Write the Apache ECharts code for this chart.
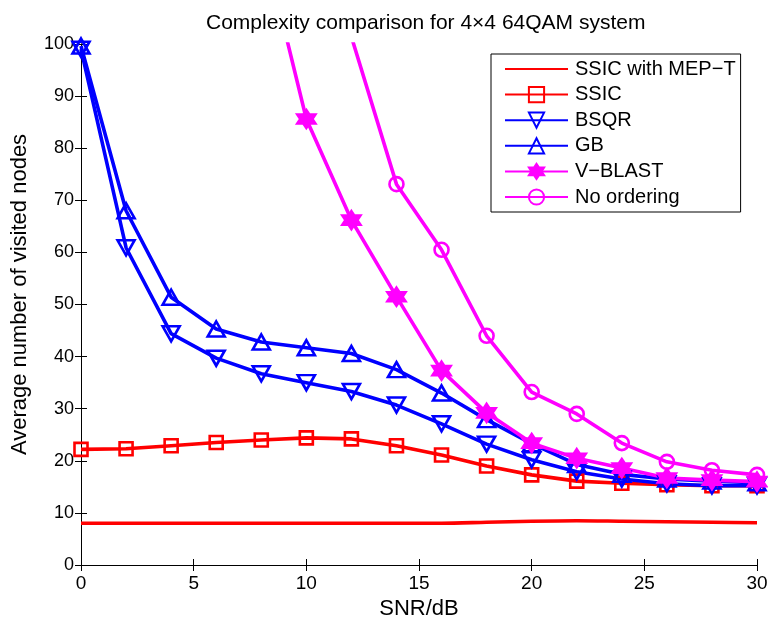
<!DOCTYPE html>
<html>
<head>
<meta charset="utf-8">
<title>Complexity comparison</title>
<script src="https://cdn.jsdelivr.net/npm/echarts@6.0.0/dist/echarts.min.js"></script>
<style>
  html,body{margin:0;padding:0;background:#fff;}
  #chart{width:768px;height:620px;}
</style>
</head>
<body>
<div id="chart"></div>
<script>
// SNR points (dB)
var snr = [0, 2, 4, 6, 8, 10, 12, 14, 16, 18, 20, 22, 24, 26, 28, 30];

// average number of visited nodes
var ssicMept = [8.0, 8.0, 8.0, 8.0, 8.0, 8.0, 8.0, 8.0, 8.0, 8.2, 8.4, 8.5, 8.4, 8.3, 8.2, 8.1];
var ssic     = [22.2, 22.3, 22.9, 23.5, 24.0, 24.4, 24.2, 22.9, 21.1, 19.0, 17.3, 16.1, 15.7, 15.4, 15.2, 15.2];
var bsqr     = [99.0, 60.9, 44.4, 39.7, 36.7, 35.0, 33.3, 30.7, 27.1, 23.2, 20.2, 17.9, 16.5, 15.6, 15.2, 15.2];
var gb       = [99.6, 68.0, 51.4, 45.3, 42.8, 41.7, 40.6, 37.5, 33.0, 27.9, 23.3, 19.3, 17.4, 16.5, 16.1, 15.8];
var vblast   = [null, null, null, null, 121, 85.6, 66.2, 51.5, 37.3, 29.2, 23.4, 20.5, 18.6, 16.7, 16.3, 16.0];
var noOrder  = [null, null, null, null, null, null, 101.4, 73.1, 60.5, 44.0, 33.2, 29.0, 23.4, 19.8, 18.2, 17.3];

var names = ['SSIC with MEP\u2212T', 'SSIC', 'BSQR', 'GB', 'V\u2212BLAST', 'No ordering'];

var red = '#ff0000';
var blue = '#0000ff';
var magenta = '#ff00ff';
var font = 'Liberation Sans, Arial, Helvetica, sans-serif';

var triDown = 'path://M0,0 L10,0 L5,9 Z';
var triUp = 'path://M5,0 L10,9 L0,9 Z';
var hexStar = 'path://M5,0 L6.44,2.5 L9.33,2.5 L7.89,5 L9.33,7.5 L6.44,7.5 L5,10 L3.56,7.5 L0.67,7.5 L2.11,5 L0.67,2.5 L3.56,2.5 Z';

function pairs(arr){
  var out = [];
  for (var i = 0; i < snr.length; i++) {
    out.push([snr[i], arr[i]]);
  }
  return out;
}

function lineSeries(name, arr, color, symbol, size, filled){
  return {
    name: name,
    type: 'line',
    data: pairs(arr),
    symbol: symbol,
    symbolSize: size,
    showAllSymbol: true,
    connectNulls: false,
    clip: true,
    lineStyle: { color: color, width: 3.6 },
    itemStyle: {
      color: filled ? color : 'rgba(0,0,0,0)',
      borderColor: color,
      borderWidth: 2.6
    },
    emphasis: { disabled: true },
    animation: false
  };
}

var myChart = echarts.init(document.getElementById('chart'));

var axisCommon = {
  type: 'value',
  axisLine: { show: true, lineStyle: { color: '#000', width: 1 } },
  axisTick: { show: true, inside: true, length: 6, lineStyle: { color: '#000' } },
  splitLine: { show: false }
};

var option = {
  backgroundColor: '#fff',
  title: {
    text: 'Complexity comparison for 4\u00d74 64QAM system',
    left: 201,
    top: 8,
    textStyle: { fontFamily: font, fontWeight: 'normal', fontSize: 21, color: '#000' }
  },
  grid: { left: 81, right: 11, top: 44, bottom: 55, containLabel: false, outerBoundsMode: 'none' },
  legend: {
    orient: 'vertical',
    left: 491,
    top: 54,
    padding: [5, 5, 5, 13],
    itemWidth: 63,
    itemHeight: 19,
    itemGap: 5.6,
    borderColor: '#000',
    borderWidth: 1,
    backgroundColor: '#fff',
    textStyle: { fontFamily: font, fontSize: 20, lineHeight: 20, color: '#000', padding: [0, 0, 0, 2] },
    data: [
      { name: names[0], itemStyle: { color: 'rgba(0,0,0,0)', borderColor: 'rgba(0,0,0,0)', borderWidth: 0 } },
      names[1], names[2], names[3], names[4], names[5]
    ]
  },
  xAxis: [
    Object.assign({}, axisCommon, {
      min: 0, max: 30, interval: 5,
      name: 'SNR/dB',
      nameLocation: 'middle',
      nameGap: 31,
      nameTextStyle: { fontFamily: font, fontSize: 22, color: '#000' },
      axisLabel: { fontFamily: font, fontSize: 19, color: '#000', margin: 9 }
    }),
    Object.assign({}, axisCommon, {
      min: 0, max: 30, interval: 5, position: 'top',
      axisLabel: { show: false }
    })
  ],
  yAxis: [
    Object.assign({}, axisCommon, {
      min: 0, max: 100, interval: 10,
      name: 'Average number of visited nodes',
      nameLocation: 'middle',
      nameGap: 50,
      nameTextStyle: { fontFamily: font, fontSize: 22, color: '#000', padding: [0, 0, 0, 20] },
      axisLabel: { fontFamily: font, fontSize: 18, color: '#000', margin: 7 }
    }),
    Object.assign({}, axisCommon, {
      min: 0, max: 100, interval: 10, position: 'right',
      axisLabel: { show: false }
    })
  ],
  series: [
    Object.assign(lineSeries(names[0], ssicMept, red, 'none', 0, false), { smooth: 0.3 }),
    lineSeries(names[1], ssic, red, 'rect', 13, false),
    lineSeries(names[2], bsqr, blue, triDown, [17, 15], false),
    lineSeries(names[3], gb, blue, triUp, [17, 15], false),
    lineSeries(names[4], vblast, magenta, hexStar, 18, true),
    lineSeries(names[5], noOrder, magenta, 'circle', 14, false)
  ]
};

myChart.setOption(option);
</script>
</body>
</html>
